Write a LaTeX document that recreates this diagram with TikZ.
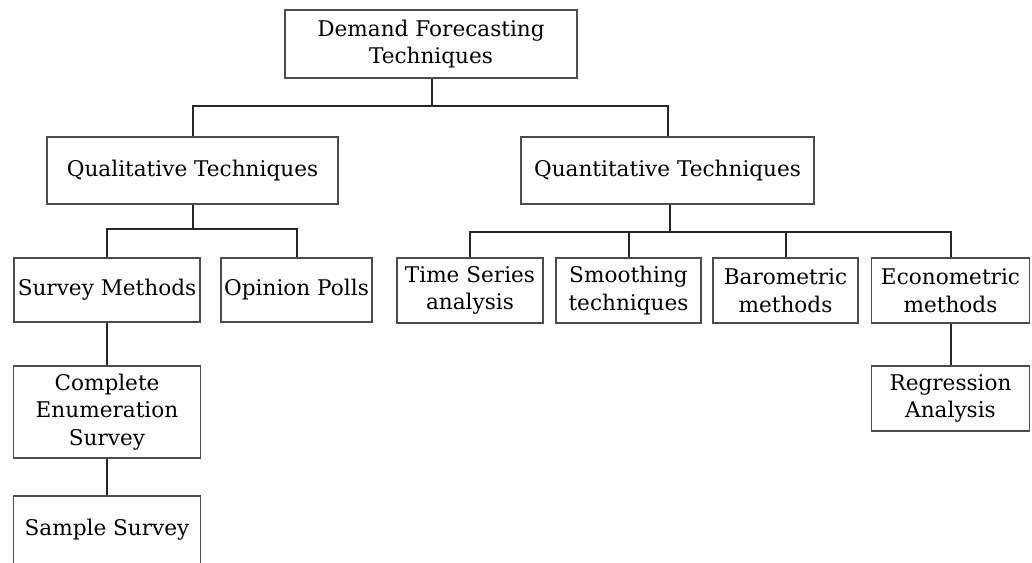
\documentclass[tikz,border=0pt]{standalone}
\usepackage{fontspec}
\setmainfont{DejaVu Serif}
\usetikzlibrary{positioning}
\tikzset{
  techbox/.style = {draw=black!70, line width=0.6pt, align=center, inner sep=1pt,
                    font=\fontsize{10.8}{13.8}\selectfont},
  link/.style = {draw=black!85, line width=1pt}
}
\begin{document}
\begin{tikzpicture}[x=0.5pt, y=-0.5pt]
  \useasboundingbox (0,0) rectangle (1032,562);
  \clip (0,0) rectangle (1032,562);
  % top level
  \node[techbox, minimum width=146pt, minimum height=34pt] (dft) at (431,44)
    {Demand Forecasting\\Techniques};
  % second level
  \node[techbox, minimum width=145.5pt, minimum height=33.5pt] (qual) at (192.5,170.5)
    {Qualitative Techniques};
  \node[techbox, minimum width=146.5pt, minimum height=33.5pt] (quant) at (667.5,170.5)
    {Quantitative Techniques};
  % qualitative branch
  \node[techbox, minimum width=93pt, minimum height=32pt] (survey) at (107,290)
    {Survey Methods};
  \node[techbox, minimum width=75.5pt, minimum height=32pt] (polls) at (296.5,290)
    {Opinion Polls};
  \node[techbox, minimum width=93.5pt, minimum height=46pt] (complete) at (107,412)
    {Complete\\Enumeration\\Survey};
  \node[techbox, minimum width=93.5pt, minimum height=46pt] (sample) at (107,542)
    {};
  \node[font=\fontsize{10.8}{13.8}\selectfont] (sampletxt) at (107,530) {Sample Survey};
  % quantitative branch
  \node[techbox, minimum width=73pt, minimum height=32.5pt] (timeser) at (470,290.5)
    {Time Series\\analysis};
  \node[techbox, minimum width=72.5pt, minimum height=32.5pt] (smooth) at (628.5,290.5)
    {Smoothing\\techniques};
  \node[techbox, minimum width=72.5pt, minimum height=32.5pt] (baro) at (785.5,290.5)
    {Barometric\\methods};
  \node[techbox, minimum width=79pt, minimum height=32.5pt] (econ) at (950.5,290.5)
    {Econometric\\methods};
  \node[techbox, minimum width=79pt, minimum height=32.5pt] (regress) at (950.5,398.5)
    {Regression\\Analysis};
  % forks
  \coordinate (f0) at (432,106);
  \coordinate (f1) at (192.5,229);
  \coordinate (f2) at (670,232);
  \draw[link] (dft.south -| f0) -- (f0);
  \draw[link] (qual.north) |- (f0) -| (quant.north);
  \draw[link] (qual.south) -- (f1);
  \draw[link] (survey.north) |- (f1) -| (polls.north);
  \draw[link] (quant.south -| f2) -- (f2);
  \draw[link] (timeser.north) |- (f2) -| (econ.north);
  \draw[link] (smooth.north) -- (smooth.north |- f2);
  \draw[link] (baro.north) -- (baro.north |- f2);
  \draw[link] (survey.south) -- (complete.north);
  \draw[link] (complete.south) -- (sample.north);
  \draw[link] (econ.south) -- (regress.north);
\end{tikzpicture}
\end{document}
